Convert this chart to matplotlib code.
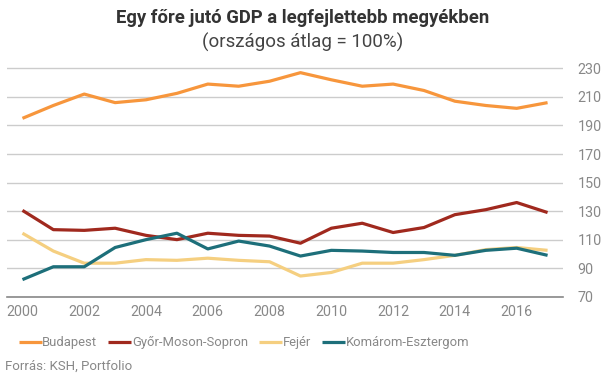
import matplotlib.pyplot as plt

plt.rcParams['font.family'] = ['Roboto', 'DejaVu Sans']

# Adatok (országos átlag = 100%)
evek = list(range(2000, 2018))
budapest = [195, 204, 212, 206, 208, 212.5, 219, 217.5, 221, 227, 222, 217.5, 219, 214.5, 207, 204, 202, 206]
gyor = [130.5, 117, 116.5, 118, 113, 110, 114.5, 113, 112.5, 107.5, 118, 121.5, 115, 118.5, 127.5, 131, 136, 129]
fejer = [114.5, 102, 93.5, 93.5, 96, 95.5, 97, 95.5, 94.5, 84.5, 87, 93.5, 93.5, 96, 99, 103, 104.5, 102.5]
komarom = [82, 91, 91, 104.5, 110, 114.5, 103.5, 109, 105.5, 98.5, 102.5, 102, 101, 101, 99, 102.5, 104, 99]

nevek = ['Budapest', 'Győr-Moson-Sopron', 'Fejér', 'Komárom-Esztergom']
szinek = ['#F7963C', '#A0291E', '#F5CF80', '#1D6F7A']
yticks = [70, 90, 110, 130, 150, 170, 190, 210, 230]

fig = plt.figure(figsize=(6.05, 3.78), dpi=100)
ax = fig.add_axes([0.0116, 0.215, 0.919, 0.626])

for adat, nev, szin in zip([budapest, gyor, fejer, komarom], nevek, szinek):
    ax.plot(evek, adat, color=szin, lw=2.3, label=nev, solid_capstyle='butt')

ax.set_xlim(1999.5, 2017.5)
ax.set_ylim(70, 235.8)
ax.set_yticks(yticks)
ax.set_xticks(range(2000, 2017, 2))
ax.yaxis.tick_right()
ax.grid(axis='y', color='#CCCCCC', lw=1)
ax.set_axisbelow(True)
for s in ['top', 'left', 'right']:
    ax.spines[s].set_visible(False)
ax.spines['bottom'].set_color('#888888')
ax.spines['bottom'].set_linewidth(1.2)
ax.tick_params(length=0, labelsize=10.3, colors='#888888')
ax.tick_params(axis='y', pad=10.5)
ax.tick_params(axis='x', pad=6)

fig.text(0.5, 0.953, 'Egy főre jutó GDP a legfejlettebb megyékben', ha='center', va='center',
         fontsize=13.3, fontweight='bold', color='#333333')
fig.text(0.5, 0.889, '(országos átlag = 100%)', ha='center', va='center',
         fontsize=13.5, color='#444444')

fig.legend(loc='center left', bbox_to_anchor=(0.031, 0.093), ncol=4, frameon=False,
           handlelength=1.75, handletextpad=0.05, columnspacing=0.85,
           prop={'size': 9.4}, labelcolor='#888888', borderaxespad=0, borderpad=0)
fig.text(0.008, 0.032, 'Forrás: KSH, Portfolio', ha='left', va='center', fontsize=9.5, color='#888888')

fig.savefig('out.png', dpi=100)
